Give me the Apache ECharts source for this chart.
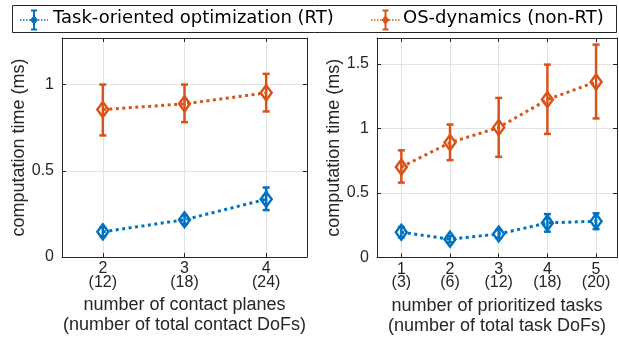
<!DOCTYPE html>
<html><head><meta charset="utf-8">
<script src="https://cdn.jsdelivr.net/npm/echarts@6/dist/echarts.min.js"></script>
<style>html,body{margin:0;padding:0;background:#fff}#c{width:619px;height:345px}</style>
</head><body><div id="c"></div>
<script>
// ---- data ----
const seriesNames = ['Task-oriented optimization (RT)', 'OS-dynamics (non-RT)'];
const leftX = [2, 3, 4];
const leftTickLabels = ['2\n(12)', '3\n(18)', '4\n(24)'];
const leftRT = [0.146, 0.216, 0.335];
const leftRTLow = [0.121, 0.191, 0.272];
const leftRTHigh = [0.171, 0.241, 0.403];
const leftOS = [0.855, 0.888, 0.952];
const leftOSLow = [0.705, 0.782, 0.844];
const leftOSHigh = [1.0, 1.0, 1.062];

const rightX = [1, 2, 3, 4, 5];
const rightTickLabels = ['1\n(3)', '2\n(6)', '3\n(12)', '4\n(18)', '5\n(20)'];
const rightRT = [0.196, 0.142, 0.182, 0.268, 0.281];
const rightRTLow = [0.156, 0.117, 0.152, 0.200, 0.220];
const rightRTHigh = [0.236, 0.167, 0.212, 0.336, 0.342];
const rightOS = [0.70, 0.89, 1.007, 1.223, 1.36];
const rightOSLow = [0.58, 0.754, 0.78, 0.957, 1.077];
const rightOSHigh = [0.83, 1.03, 1.236, 1.494, 1.649];

const leftYTicks = [0, 0.5, 1];
const rightYTicks = [0, 0.5, 1, 1.5];
const leftXName = 'number of contact planes\n(number of total contact DoFs)';
const rightXName = 'number of prioritized tasks\n(number of total task DoFs)';
const yName = 'computation time (ms)';

const BLUE = '#0072BD', ORANGE = '#D95319';
const AXC = '#262626', GRIDC = '#e3e3e3';
const FONT = '"Liberation Sans", Arial, sans-serif';

function zip(xs, ys) { return xs.map((x, i) => [x, ys[i]]); }
function zip3(xs, lo, hi) { return xs.map((x, i) => [x, lo[i], hi[i]]); }

function errRender(color) {
  return function (params, api) {
    const x = api.value(0);
    const p1 = api.coord([x, api.value(1)]);
    const p2 = api.coord([x, api.value(2)]);
    const w = 3.5;
    const st = { stroke: color, lineWidth: 2.5 };
    return { type: 'group', children: [
      { type: 'line', shape: { x1: p1[0], y1: p1[1], x2: p2[0], y2: p2[1] }, style: st },
      { type: 'line', shape: { x1: p1[0] - w, y1: p1[1], x2: p1[0] + w, y2: p1[1] }, style: st },
      { type: 'line', shape: { x1: p2[0] - w, y1: p2[1], x2: p2[0] + w, y2: p2[1] }, style: st }
    ]};
  };
}

function fmtFrom(xs, labels) {
  return function (v) { const i = xs.indexOf(Math.round(v * 1000) / 1000); return i >= 0 ? labels[i] : ''; };
}

function xAxisMain(gi, min, max, xs, labels, name) {
  return {
    type: 'value', gridIndex: gi, min: min, max: max,
    name: name, nameLocation: 'middle', nameGap: 38,
    nameTextStyle: { color: '#262626', fontFamily: FONT, fontSize: 18, lineHeight: 20 },
    axisLine: { show: true, onZero: false, lineStyle: { color: AXC, width: 1 } },
    axisTick: { show: true, inside: true, length: 4, customValues: xs, lineStyle: { color: AXC } },
    axisLabel: { customValues: xs, formatter: fmtFrom(xs, labels), color: '#262626', fontFamily: FONT, fontSize: 16, lineHeight: 13.5, margin: 5 },
    splitLine: { show: true, lineStyle: { color: GRIDC, width: 1 } }
  };
}
function xAxisTop(gi, min, max, xs) {
  return {
    type: 'value', gridIndex: gi, min: min, max: max, position: 'top',
    axisLine: { show: true, onZero: false, lineStyle: { color: AXC, width: 1 } },
    axisTick: { show: true, inside: true, length: 4, customValues: xs, lineStyle: { color: AXC } },
    axisLabel: { show: false }, splitLine: { show: false }
  };
}
function yAxisMain(gi, max, ticks, gap) {
  return {
    type: 'value', gridIndex: gi, min: 0, max: max,
    name: yName, nameLocation: 'middle', nameGap: gap,
    nameTextStyle: { color: '#262626', fontFamily: FONT, fontSize: 18 },
    axisLine: { show: true, onZero: false, lineStyle: { color: AXC, width: 1 } },
    axisTick: { show: true, inside: true, length: 4, customValues: ticks, lineStyle: { color: AXC } },
    axisLabel: { customValues: ticks, formatter: v => String(Math.round(v * 100) / 100), color: '#262626', fontFamily: FONT, fontSize: 16, margin: 8 },
    splitLine: { show: true, lineStyle: { color: GRIDC, width: 1 } }
  };
}
function yAxisRight(gi, max, ticks) {
  return {
    type: 'value', gridIndex: gi, min: 0, max: max, position: 'right',
    axisLine: { show: true, onZero: false, lineStyle: { color: AXC, width: 1 } },
    axisTick: { show: true, inside: true, length: 4, customValues: ticks, lineStyle: { color: AXC } },
    axisLabel: { show: false }, splitLine: { show: false }
  };
}

function seriesSet(xi, yi, xs, rt, rtLo, rtHi, os, osLo, osHi) {
  const lineS = (data, color, name) => ({
    type: 'line', name: name, xAxisIndex: xi, yAxisIndex: yi, data: data, symbol: 'none', silent: true,
    lineStyle: { color: color, width: 3, type: [3, 3.5] }, z: 2
  });
  const errS = (data, color) => ({
    type: 'custom', xAxisIndex: xi, yAxisIndex: yi, data: data, renderItem: errRender(color), silent: true, z: 3
  });
  const ptS = (data, color) => ({
    type: 'scatter', xAxisIndex: xi, yAxisIndex: yi, data: data, symbol: 'diamond', symbolSize: [11, 15], silent: true,
    itemStyle: { color: 'rgba(0,0,0,0)', borderColor: color, borderWidth: 2.5, opacity: 1 }, z: 4
  });
  return [
    lineS(zip(xs, rt), BLUE, seriesNames[0]), errS(zip3(xs, rtLo, rtHi), BLUE), ptS(zip(xs, rt), BLUE),
    lineS(zip(xs, os), ORANGE, seriesNames[1]), errS(zip3(xs, osLo, osHi), ORANGE), ptS(zip(xs, os), ORANGE)
  ];
}

function legendItem(x0, x1, tx, color, label) {
  const cx = (x0 + x1) / 2, cy = 20;
  const st = { stroke: color, lineWidth: 2 };
  return [
    { type: 'line', z: 20, shape: { x1: x0, y1: cy, x2: x1, y2: cy }, style: { stroke: color, lineWidth: 1.5, lineDash: [1.5, 1.5] } },
    { type: 'line', z: 20, shape: { x1: cx, y1: 10.5, x2: cx, y2: 29.5 }, style: st },
    { type: 'line', z: 20, shape: { x1: cx - 3, y1: 10.5, x2: cx + 3, y2: 10.5 }, style: st },
    { type: 'line', z: 20, shape: { x1: cx - 3, y1: 29.5, x2: cx + 3, y2: 29.5 }, style: st },
    { type: 'polygon', z: 21, shape: { points: [[cx, cy - 4], [cx + 3.5, cy], [cx, cy + 4], [cx - 3.5, cy]] }, style: { fill: color, stroke: color, lineWidth: 1 } },
    { type: 'text', z: 21, x: tx, y: 18, style: { text: label, fill: '#000', font: '18px "DejaVu Sans", sans-serif', textVerticalAlign: 'middle' } }
  ];
}

const option = {
  animation: false,
  grid: [
    { left: 62, top: 38, width: 245, height: 219 },
    { left: 377, top: 38, width: 240, height: 219.5 }
  ],
  xAxis: [
    xAxisMain(0, 1.5, 4.5, leftX, leftTickLabels, leftXName), xAxisTop(0, 1.5, 4.5, leftX),
    xAxisMain(1, 0.5, 5.43, rightX, rightTickLabels, rightXName), xAxisTop(1, 0.5, 5.43, rightX)
  ],
  yAxis: [
    yAxisMain(0, 1.27, leftYTicks, 31), yAxisRight(0, 1.27, leftYTicks),
    yAxisMain(1, 1.7, rightYTicks, 34), yAxisRight(1, 1.7, rightYTicks)
  ],
  series: [].concat(
    seriesSet(0, 0, leftX, leftRT, leftRTLow, leftRTHigh, leftOS, leftOSLow, leftOSHigh),
    seriesSet(2, 2, rightX, rightRT, rightRTLow, rightRTHigh, rightOS, rightOSLow, rightOSHigh)
  ),
  graphic: [
    { type: 'rect', z: 19, shape: { x: 12.5, y: 5.5, width: 604, height: 27 }, style: { fill: '#fff', stroke: AXC, lineWidth: 1 } }
  ].concat(legendItem(20, 48, 53, BLUE, seriesNames[0]), legendItem(371, 400, 403, ORANGE, seriesNames[1]))
};
const chart = echarts.init(document.getElementById('c'), null, { renderer: 'canvas' });
chart.setOption(option);
</script></body></html>
